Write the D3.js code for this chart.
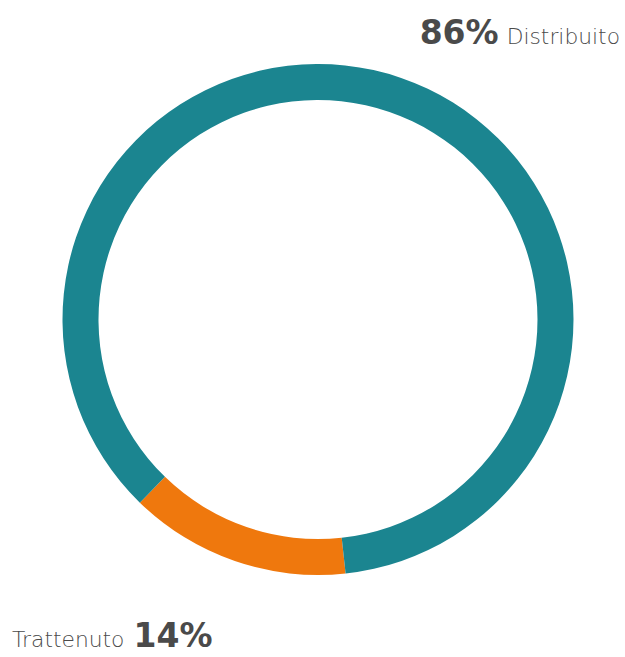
<!DOCTYPE html>
<html><head><meta charset="utf-8">
<script src="https://cdn.jsdelivr.net/npm/d3@7"></script>
<style>html,body{margin:0;padding:0;background:#fff;}svg{display:block;}</style>
</head><body>
<svg id="chart" width="625" height="657"></svg>
<script>
const categories = ["Trattenuto", "Distribuito"];
const values = [14, 86];
const labels = ["14%", "86%"];
const colors = ["#ef780d", "#1b8590"];

const svg = d3.select("#chart");
const cx = 318, cy = 319.5, R = 255.5, r = 219.5;
const deg = Math.PI / 180;
const pie = d3.pie().sort(null).value(d => d)
  .startAngle(173.8 * deg).endAngle(173.8 * deg + 2 * Math.PI);
const arc = d3.arc().innerRadius(r).outerRadius(R);
const g = svg.append("g").attr("transform", `translate(${cx},${cy})`);
g.selectAll("path").data(pie(values)).join("path")
  .attr("d", arc).attr("fill", (d, i) => colors[i]);

const font = "'DejaVu Sans', sans-serif";
// top-right label
const t1 = svg.append("text").attr("x", 620).attr("y", 44)
  .attr("text-anchor", "end").attr("font-family", font).attr("fill", "#4a4a4a");
t1.append("tspan").attr("font-weight", 700).attr("font-size", 33).text(labels[1]);
t1.append("tspan").attr("font-weight", 200).attr("font-size", 21.8).attr("dx", 8).text(categories[1]);
// bottom-left label
const t2 = svg.append("text").attr("x", 12).attr("y", 647)
  .attr("font-family", font).attr("fill", "#4a4a4a");
t2.append("tspan").attr("font-weight", 200).attr("font-size", 21.8).text(categories[0]);
t2.append("tspan").attr("font-weight", 700).attr("font-size", 33).attr("dx", 9).text(labels[0]);
</script>
</body></html>
